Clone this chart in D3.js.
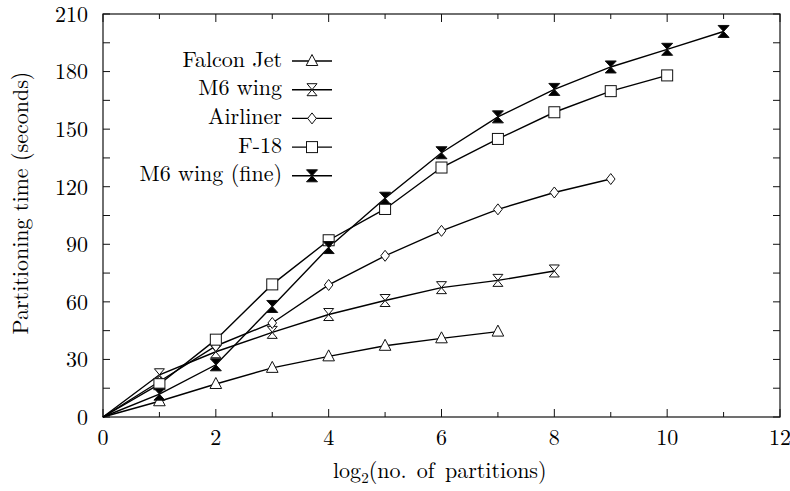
<!DOCTYPE html>
<html>
<head>
<meta charset="utf-8">
<script src="https://cdn.jsdelivr.net/npm/d3@7"></script>
<style>
  body { margin: 0; background: #fff; }
  svg text { font-family: "Latin Modern Roman", "Latin Modern", "CMU Serif", serif; fill: #000; }
</style>
</head>
<body>
<div id="chart"></div>
<script>
var xs = [0, 1, 2, 3, 4, 5, 6, 7, 8, 9, 10, 11];
var falconJet = [0, 8.2, 17.2, 25.6, 31.6, 37.1, 41.0, 44.5];
var m6Wing = [0, 22, 34, 44.1, 53.4, 60.7, 67.4, 71.2, 76.1];
var airliner = [0, 18.5, 37, 49, 68.8, 84, 97, 108.2, 117, 124];
var f18 = [0, 17.1, 40.3, 69.1, 92.1, 108.4, 130, 144.9, 158.8, 169.8, 178];
var m6Fine = [0, 11.9, 27.2, 57.6, 88.3, 114, 137.7, 156.4, 170.7, 182.4, 191.6, 200.9];
var seriesNames = ['Falcon Jet', 'M6 wing', 'Airliner', 'F-18', 'M6 wing (fine)'];
var seriesMarks = ['triangle', 'hourglass', 'diamond', 'square', 'hourglassFilled'];
var xTicks = [0, 2, 4, 6, 8, 10, 12];
var yTicks = [0, 30, 60, 90, 120, 150, 180, 210];

var series = [falconJet, m6Wing, airliner, f18, m6Fine].map(function(vals, i) {
    return {
        name: seriesNames[i],
        mark: seriesMarks[i],
        points: vals.map(function(v, j) { return { x: xs[j], y: v }; })
    };
});

var width = 790, height = 491;
var margin = { top: 14, right: 10, bottom: 74, left: 103 };
var iw = width - margin.left - margin.right;
var ih = height - margin.top - margin.bottom;

var svg = d3.select('#chart').append('svg')
    .attr('width', width)
    .attr('height', height);

var g = svg.append('g').attr('transform', 'translate(' + margin.left + ',' + margin.top + ')');

var x = d3.scaleLinear().domain([0, 12]).range([0, iw]);
var y = d3.scaleLinear().domain([0, 210]).range([ih, 0]);

// frame
g.append('rect')
    .attr('width', iw).attr('height', ih)
    .attr('fill', 'none').attr('stroke', '#111').attr('stroke-width', 1.2);

var minorX = d3.range(1, 12, 2);
var allY = d3.range(0, 211, 15);

// ticks, pointing inward on all four sides
var tk = g.append('g').attr('stroke', '#111').attr('stroke-width', 1);
xTicks.concat(minorX).forEach(function(t) {
    var len = xTicks.indexOf(t) >= 0 ? 8 : 5;
    tk.append('line').attr('x1', x(t)).attr('x2', x(t)).attr('y1', ih).attr('y2', ih - len);
    tk.append('line').attr('x1', x(t)).attr('x2', x(t)).attr('y1', 0).attr('y2', len);
});
allY.forEach(function(t) {
    tk.append('line').attr('x1', 0).attr('x2', 7).attr('y1', y(t)).attr('y2', y(t));
    tk.append('line').attr('x1', iw).attr('x2', iw - 7).attr('y1', y(t)).attr('y2', y(t));
});

// tick labels
g.selectAll('text.xt').data(xTicks).join('text')
    .attr('class', 'xt')
    .attr('x', function(d) { return x(d); })
    .attr('y', ih + 28)
    .attr('text-anchor', 'middle')
    .attr('font-size', 22)
    .text(function(d) { return d; });

g.selectAll('text.yt').data(yTicks).join('text')
    .attr('class', 'yt')
    .attr('x', -15)
    .attr('y', function(d) { return y(d); })
    .attr('dy', '0.36em')
    .attr('text-anchor', 'end')
    .attr('font-size', 22)
    .text(function(d) { return d; });

// axis titles
var xl = svg.append('text')
    .attr('x', 333)
    .attr('y', 478)
    .attr('font-size', 22)
    .attr('word-spacing', 3);
xl.append('tspan').text('log');
xl.append('tspan').attr('font-size', 15).attr('dy', 5).text('2');
xl.append('tspan').attr('dy', -5).text('(no. of partitions)');

svg.append('text')
    .attr('transform', 'translate(28,203) rotate(-90)')
    .attr('text-anchor', 'middle')
    .attr('font-size', 22)
    .text('Partitioning time (seconds)');

// marker shapes
function drawMark(sel, kind) {
    var p;
    if (kind === 'triangle') {
        p = sel.append('path').attr('d', 'M0,-6.5L5.8,4.5L-5.8,4.5Z').attr('fill', '#fff');
    } else if (kind === 'hourglass') {
        p = sel.append('path').attr('d', 'M-5,-6L5,-6L-5,6L5,6Z').attr('fill', '#fff');
    } else if (kind === 'hourglassFilled') {
        p = sel.append('path').attr('d', 'M-5.5,-6L5.5,-6L-5.5,6L5.5,6Z').attr('fill', '#000');
    } else if (kind === 'diamond') {
        p = sel.append('path').attr('d', 'M0,-5.5L4.3,0L0,5.5L-4.3,0Z').attr('fill', '#fff');
    } else {
        p = sel.append('rect').attr('x', -5.5).attr('y', -5.5).attr('width', 11).attr('height', 11).attr('fill', '#fff');
    }
    p.attr('stroke', '#111').attr('stroke-width', 1);
}

var line = d3.line().x(function(d) { return x(d.x); }).y(function(d) { return y(d.y); });

series.forEach(function(s) {
    g.append('path').datum(s.points)
        .attr('d', line)
        .attr('fill', 'none')
        .attr('stroke', '#000')
        .attr('stroke-width', 1.4);
});
series.forEach(function(s) {
    s.points.slice(1).forEach(function(p) {
        var m = g.append('g').attr('transform', 'translate(' + x(p.x) + ',' + y(p.y) + ')');
        drawMark(m, s.mark);
    });
});

// legend
var legend = svg.append('g').attr('transform', 'translate(282,60)');
series.forEach(function(s, i) {
    var row = legend.append('g').attr('transform', 'translate(0,' + (i * 28.7) + ')');
    row.append('text')
        .attr('x', 0).attr('y', 0).attr('dy', '0.3em')
        .attr('text-anchor', 'end')
        .attr('font-size', 22)
        .text(s.name);
    row.append('line')
        .attr('x1', 10).attr('x2', 50).attr('y1', 1).attr('y2', 1)
        .attr('stroke', '#000').attr('stroke-width', 1.4);
    var m = row.append('g').attr('transform', 'translate(30,1)');
    drawMark(m, s.mark);
});
</script>
</body>
</html>
